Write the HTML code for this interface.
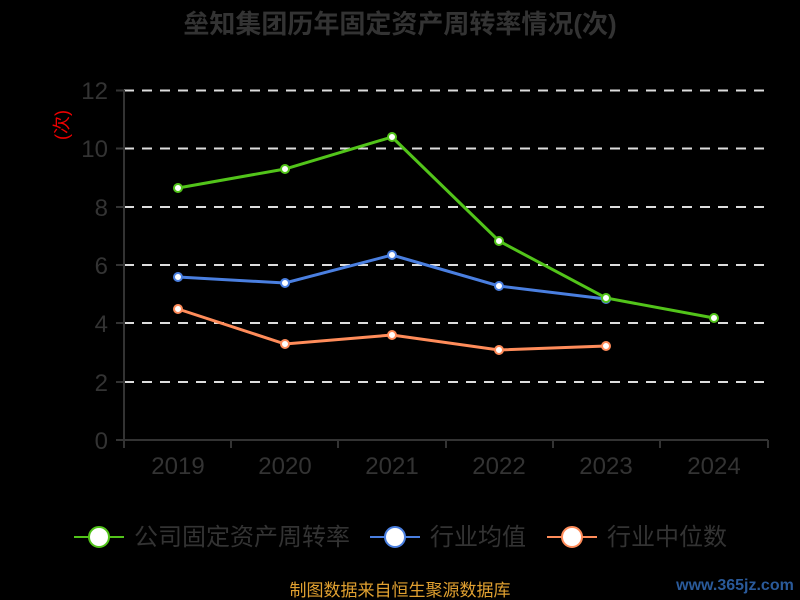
<!DOCTYPE html>
<html><head><meta charset="utf-8"><style>
html,body{margin:0;padding:0;background:#000;}
svg{display:block;font-family:"Liberation Sans","Noto Sans CJK SC",sans-serif;}
</style></head><body>
<svg width="800" height="600" viewBox="0 0 800 600">
<rect width="800" height="600" fill="#000"/>
<text x="400" y="33" text-anchor="middle" font-size="26" font-weight="bold" fill="#333">垒知集团历年固定资产周转率情况(次)</text>
<g stroke="#ddd" stroke-width="2" stroke-dasharray="10,8">
<line x1="124" y1="90.5" x2="768" y2="90.5"/>
<line x1="124" y1="148.5" x2="768" y2="148.5"/>
<line x1="124" y1="207" x2="768" y2="207"/>
<line x1="124" y1="265" x2="768" y2="265"/>
<line x1="124" y1="323" x2="768" y2="323"/>
<line x1="124" y1="382" x2="768" y2="382"/>
</g>
<g stroke="#333" stroke-width="2">
<line x1="124" y1="90" x2="124" y2="441"/>
<line x1="124" y1="440" x2="768" y2="440"/>
<line x1="116" y1="90.5" x2="124" y2="90.5"/><line x1="116" y1="148.5" x2="124" y2="148.5"/>
<line x1="116" y1="207" x2="124" y2="207"/><line x1="116" y1="265" x2="124" y2="265"/>
<line x1="116" y1="323" x2="124" y2="323"/><line x1="116" y1="382" x2="124" y2="382"/>
<line x1="116" y1="440" x2="124" y2="440"/>
<line x1="124" y1="440" x2="124" y2="448"/><line x1="231" y1="440" x2="231" y2="448"/>
<line x1="338" y1="440" x2="338" y2="448"/><line x1="446" y1="440" x2="446" y2="448"/>
<line x1="553" y1="440" x2="553" y2="448"/><line x1="660" y1="440" x2="660" y2="448"/>
<line x1="768" y1="440" x2="768" y2="448"/>
</g>
<g font-size="24" fill="#333" text-anchor="end">
<text x="108" y="99">12</text><text x="108" y="157">10</text><text x="108" y="216">8</text>
<text x="108" y="274">6</text><text x="108" y="332">4</text><text x="108" y="391">2</text><text x="108" y="449">0</text>
</g>
<g font-size="24" fill="#333" text-anchor="middle">
<text x="178" y="474">2019</text><text x="285" y="474">2020</text><text x="392" y="474">2021</text>
<text x="499" y="474">2022</text><text x="606" y="474">2023</text><text x="714" y="474">2024</text>
</g>
<text transform="translate(63,125) rotate(-90)" font-size="18" fill="#e00" text-anchor="middle" dominant-baseline="middle">(次)</text>
<polyline fill="none" stroke="#ff8c5a" stroke-width="3" points="178,309 285,344 392,335 499,350 606,346"/>
<polyline fill="none" stroke="#4a7fe0" stroke-width="3" points="178,277 285,283 392,255 499,286 606,299"/>
<polyline fill="none" stroke="#52c41a" stroke-width="3" points="178,188 285,169 392,137 499,241 606,298 714,318"/>
<g fill="#fff" stroke="#ff8c5a" stroke-width="2">
<circle cx="178" cy="309" r="4"/><circle cx="285" cy="344" r="4"/><circle cx="392" cy="335" r="4"/><circle cx="499" cy="350" r="4"/><circle cx="606" cy="346" r="4"/></g>
<g fill="#fff" stroke="#4a7fe0" stroke-width="2">
<circle cx="178" cy="277" r="4"/><circle cx="285" cy="283" r="4"/><circle cx="392" cy="255" r="4"/><circle cx="499" cy="286" r="4"/><circle cx="606" cy="299" r="4"/></g>
<g fill="#fff" stroke="#52c41a" stroke-width="2">
<circle cx="178" cy="188" r="4"/><circle cx="285" cy="169" r="4"/><circle cx="392" cy="137" r="4"/><circle cx="499" cy="241" r="4"/><circle cx="606" cy="298" r="4"/><circle cx="714" cy="318" r="4"/></g>
<g font-size="24" fill="#333">
<line x1="74" y1="537" x2="124" y2="537" stroke="#52c41a" stroke-width="2"/>
<circle cx="99" cy="537" r="10" fill="#fff" stroke="#52c41a" stroke-width="2"/>
<text x="134" y="545">公司固定资产周转率</text>
<line x1="370" y1="537" x2="420" y2="537" stroke="#4a7fe0" stroke-width="2"/>
<circle cx="395" cy="537" r="10" fill="#fff" stroke="#4a7fe0" stroke-width="2"/>
<text x="430" y="545">行业均值</text>
<line x1="547" y1="537" x2="597" y2="537" stroke="#ff8c5a" stroke-width="2"/>
<circle cx="572" cy="537" r="10" fill="#fff" stroke="#ff8c5a" stroke-width="2"/>
<text x="607" y="545">行业中位数</text>
</g>
<text x="400" y="596" text-anchor="middle" font-size="17" fill="#e0a030">制图数据来自恒生聚源数据库</text>
<text x="735" y="590" text-anchor="middle" font-size="16" font-weight="bold" fill="#2a5a9a">www.365jz.com</text>
</svg>
</body></html>
